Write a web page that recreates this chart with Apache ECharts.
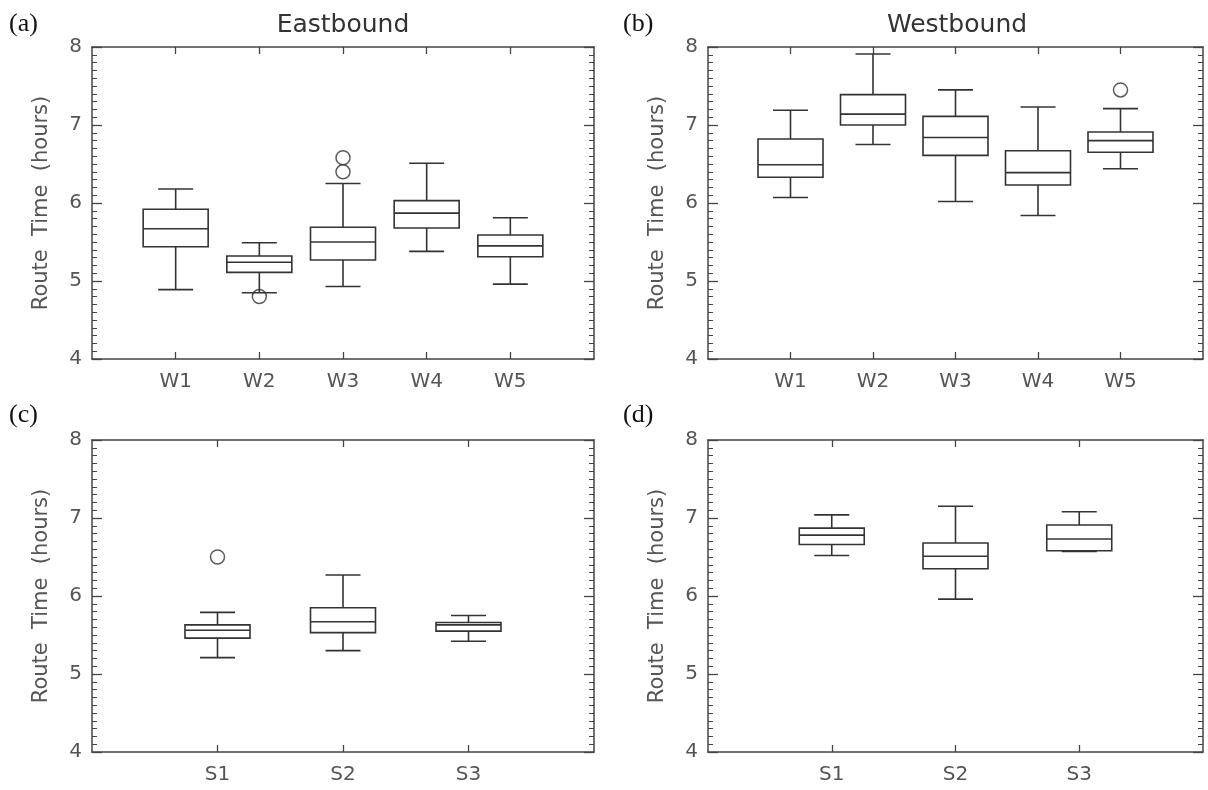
<!DOCTYPE html>
<html>
<head>
<meta charset="utf-8">
<script src="https://cdn.jsdelivr.net/npm/echarts@6/dist/echarts.min.js"></script>
<style>
html,body{margin:0;padding:0;background:#fff;}
#c{width:1208px;height:790px;}
</style>
</head>
<body>
<div id="c"></div>
<script>
// ---- Data ----
const wCats = ['W1', 'W2', 'W3', 'W4', 'W5'];
const sCats = ['S1', 'S2', 'S3'];
const yTicks = [4, 5, 6, 7, 8];

// (a) Eastbound, W routes
const ebWLow  = [4.89, 4.85, 4.93, 5.38, 4.96];
const ebWQ1   = [5.44, 5.11, 5.27, 5.68, 5.31];
const ebWMed  = [5.67, 5.24, 5.50, 5.87, 5.45];
const ebWQ3   = [5.92, 5.32, 5.69, 6.03, 5.59];
const ebWHigh = [6.18, 5.49, 6.25, 6.51, 5.81];
const ebWOut  = [['W2', 4.80], ['W3', 6.40], ['W3', 6.58]];

// (b) Westbound, W routes
const wbWLow  = [6.07, 6.75, 6.02, 5.84, 6.44];
const wbWQ1   = [6.33, 7.00, 6.61, 6.23, 6.65];
const wbWMed  = [6.49, 7.14, 6.84, 6.39, 6.80];
const wbWQ3   = [6.82, 7.39, 7.11, 6.67, 6.91];
const wbWHigh = [7.19, 7.91, 7.45, 7.23, 7.21];
const wbWOut  = [['W5', 7.45]];

// (c) Eastbound, S routes
const ebSLow  = [5.21, 5.30, 5.42];
const ebSQ1   = [5.46, 5.53, 5.55];
const ebSMed  = [5.56, 5.67, 5.63];
const ebSQ3   = [5.63, 5.85, 5.66];
const ebSHigh = [5.79, 6.27, 5.75];
const ebSOut  = [['S1', 6.50]];

// (d) Westbound, S routes
const wbSLow  = [6.52, 5.96, 6.57];
const wbSQ1   = [6.66, 6.35, 6.58];
const wbSMed  = [6.78, 6.51, 6.73];
const wbSQ3   = [6.87, 6.68, 6.91];
const wbSHigh = [7.04, 7.15, 7.08];
const wbSOut  = [];

// ---- Build chart ----
const LINE = '#333';
const AX = '#444';
const LBL = '#555';
const FONT = 'DejaVu Sans';

const grids = [
  {left: 92,  top: 47,  width: 502, height: 312},
  {left: 708, top: 47,  width: 495, height: 312},
  {left: 92,  top: 440, width: 502, height: 312},
  {left: 708, top: 440, width: 495, height: 312}
];
const panelCats = [wCats, wCats, sCats, sCats];
const panelBoxes = [
  [ebWLow, ebWQ1, ebWMed, ebWQ3, ebWHigh],
  [wbWLow, wbWQ1, wbWMed, wbWQ3, wbWHigh],
  [ebSLow, ebSQ1, ebSMed, ebSQ3, ebSHigh],
  [wbSLow, wbSQ1, wbSMed, wbSQ3, wbSHigh]
];
const panelOut = [ebWOut, wbWOut, ebSOut, wbSOut];

const xAxes = [], yAxes = [], series = [];
grids.forEach((g, i) => {
  const cats = panelCats[i];
  const pos = cats.map((c, k) => k + 1);
  const base = {
    type: 'value', gridIndex: i, min: 0, max: cats.length + 1,
    axisLine: {show: true, onZero: false, lineStyle: {color: AX, width: 1.5}},
    splitLine: {show: false}
  };
  xAxes.push(Object.assign({}, base, {
    position: 'bottom',
    axisTick: {show: true, inside: true, length: 7, customValues: pos, lineStyle: {color: AX, width: 1.3}},
    axisLabel: {show: true, customValues: pos, margin: 13, color: LBL, fontSize: 20, fontFamily: FONT,
      formatter: v => cats[Math.round(v) - 1] || ''}
  }));
  xAxes.push(Object.assign({}, base, {
    position: 'top',
    axisTick: {show: true, inside: true, length: 7, customValues: pos, lineStyle: {color: AX, width: 1.3}},
    axisLabel: {show: false}
  }));
  const ybase = {
    type: 'value', gridIndex: i, min: 4, max: 8, interval: 1,
    axisLine: {show: true, onZero: false, lineStyle: {color: AX, width: 1.5}},
    axisTick: {show: true, inside: true, length: 10, lineStyle: {color: AX, width: 1.3}},
    minorTick: {show: true, splitNumber: 10, length: 5, lineStyle: {color: AX, width: 1}},
    splitLine: {show: false}, minorSplitLine: {show: false}
  };
  yAxes.push(Object.assign({}, ybase, {
    position: 'left',
    name: 'Route  Time  (hours)', nameLocation: 'middle', nameGap: 40, nameRotate: 90,
    nameTextStyle: {color: LBL, fontSize: 21, fontFamily: FONT},
    axisLabel: {show: true, margin: 10, color: LBL, fontSize: 20, fontFamily: FONT,
      customValues: yTicks}
  }));
  yAxes.push(Object.assign({}, ybase, {position: 'right', axisLabel: {show: false}}));

  const b = panelBoxes[i];
  const data = cats.map((c, k) => [k + 1, b[0][k], b[1][k], b[2][k], b[3][k], b[4][k]]);
  series.push({
    type: 'custom', xAxisIndex: 2 * i, yAxisIndex: 2 * i,
    encode: {x: 0, y: [1, 2, 3, 4, 5]},
    data: data,
    renderItem: function (params, api) {
      const x = api.value(0);
      const pl = api.coord([x, api.value(1)]);
      const p1 = api.coord([x, api.value(2)]);
      const pm = api.coord([x, api.value(3)]);
      const p3 = api.coord([x, api.value(4)]);
      const ph = api.coord([x, api.value(5)]);
      const cx = pl[0], hw = 32.5, cw = 17.5;
      const st = {stroke: LINE, lineWidth: 1.6, fill: null};
      return {
        type: 'group',
        children: [
          {type: 'rect', shape: {x: cx - hw, y: p3[1], width: 2 * hw, height: p1[1] - p3[1]}, style: st},
          {type: 'line', shape: {x1: cx - hw, y1: pm[1], x2: cx + hw, y2: pm[1]}, style: st},
          {type: 'line', shape: {x1: cx, y1: p3[1], x2: cx, y2: ph[1]}, style: st},
          {type: 'line', shape: {x1: cx - cw, y1: ph[1], x2: cx + cw, y2: ph[1]}, style: st},
          {type: 'line', shape: {x1: cx, y1: p1[1], x2: cx, y2: pl[1]}, style: st},
          {type: 'line', shape: {x1: cx - cw, y1: pl[1], x2: cx + cw, y2: pl[1]}, style: st}
        ]
      };
    },
    silent: true, animation: false
  });
  series.push({
    type: 'scatter', xAxisIndex: 2 * i, yAxisIndex: 2 * i,
    data: panelOut[i].map(o => [cats.indexOf(o[0]) + 1, o[1]]),
    symbol: 'circle', symbolSize: 14,
    itemStyle: {color: 'rgba(0,0,0,0)', borderColor: LINE, borderWidth: 1.5},
    silent: true, animation: false
  });
});

const PF = '26px "Liberation Serif"';
const graphics = [
  {type: 'text', x: 9, y: 24, style: {text: '(a)', font: PF, fill: '#111', textVerticalAlign: 'middle'}},
  {type: 'text', x: 623, y: 24, style: {text: '(b)', font: PF, fill: '#111', textVerticalAlign: 'middle'}},
  {type: 'text', x: 9, y: 415, style: {text: '(c)', font: PF, fill: '#111', textVerticalAlign: 'middle'}},
  {type: 'text', x: 623, y: 415, style: {text: '(d)', font: PF, fill: '#111', textVerticalAlign: 'middle'}},
  {type: 'text', x: 343, y: 25, style: {text: 'Eastbound', font: '25px "DejaVu Sans"', fill: '#333', textAlign: 'center', textVerticalAlign: 'middle'}},
  {type: 'text', x: 957, y: 25, style: {text: 'Westbound', font: '25px "DejaVu Sans"', fill: '#333', textAlign: 'center', textVerticalAlign: 'middle'}}
];

const chart = echarts.init(document.getElementById('c'), null, {renderer: 'canvas'});
chart.setOption({
  backgroundColor: '#fff',
  animation: false,
  grid: grids,
  xAxis: xAxes,
  yAxis: yAxes,
  series: series,
  graphic: graphics
});
</script>
</body>
</html>
